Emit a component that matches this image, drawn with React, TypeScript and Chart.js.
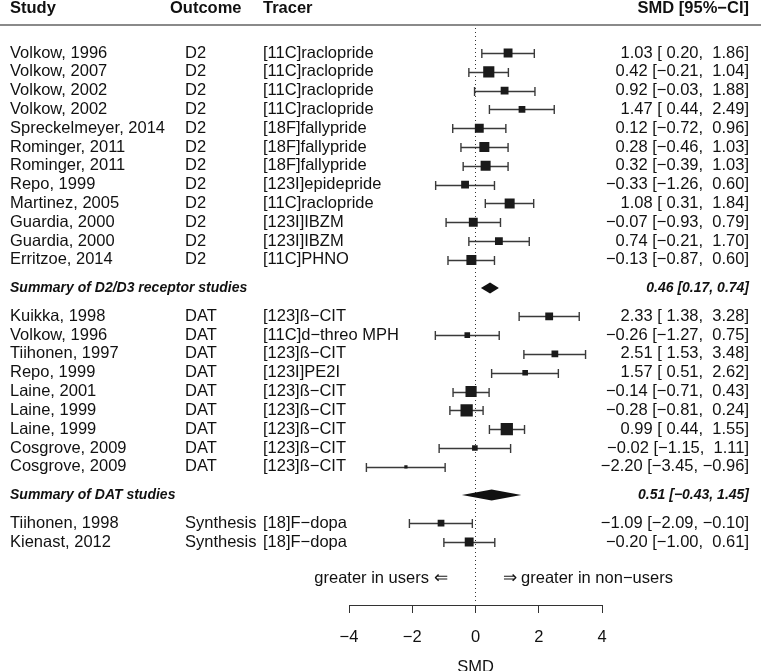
import React, { useEffect, useRef } from "react";
import { Chart, registerables } from "chart.js";

Chart.register(...registerables);

// ---------- data ----------
const studies = [
  "Volkow, 1996", "Volkow, 2007", "Volkow, 2002", "Volkow, 2002", "Spreckelmeyer, 2014",
  "Rominger, 2011", "Rominger, 2011", "Repo, 1999", "Martinez, 2005", "Guardia, 2000",
  "Guardia, 2000", "Erritzoe, 2014",
  "Kuikka, 1998", "Volkow, 1996", "Tiihonen, 1997", "Repo, 1999", "Laine, 2001",
  "Laine, 1999", "Laine, 1999", "Cosgrove, 2009", "Cosgrove, 2009",
  "Tiihonen, 1998", "Kienast, 2012",
];
const outcomes = [
  "D2", "D2", "D2", "D2", "D2", "D2", "D2", "D2", "D2", "D2", "D2", "D2",
  "DAT", "DAT", "DAT", "DAT", "DAT", "DAT", "DAT", "DAT", "DAT",
  "Synthesis", "Synthesis",
];
const tracers = [
  "[11C]raclopride", "[11C]raclopride", "[11C]raclopride", "[11C]raclopride", "[18F]fallypride",
  "[18F]fallypride", "[18F]fallypride", "[123I]epidepride", "[11C]raclopride", "[123I]IBZM",
  "[123I]IBZM", "[11C]PHNO",
  "[123]ß\u2212CIT", "[11C]d\u2212threo MPH", "[123]ß\u2212CIT", "[123I]PE2I", "[123]ß\u2212CIT",
  "[123]ß\u2212CIT", "[123]ß\u2212CIT", "[123]ß\u2212CIT", "[123]ß\u2212CIT",
  "[18]F\u2212dopa", "[18]F\u2212dopa",
];
const studyGroup = [0, 0, 0, 0, 0, 0, 0, 0, 0, 0, 0, 0, 1, 1, 1, 1, 1, 1, 1, 1, 1, 2, 2];
const smd = [
  1.03, 0.42, 0.92, 1.47, 0.12, 0.28, 0.32, -0.33, 1.08, -0.07, 0.74, -0.13,
  2.33, -0.26, 2.51, 1.57, -0.14, -0.28, 0.99, -0.02, -2.2,
  -1.09, -0.2,
];
const lower = [
  0.2, -0.21, -0.03, 0.44, -0.72, -0.46, -0.39, -1.26, 0.31, -0.93, -0.21, -0.87,
  1.38, -1.27, 1.53, 0.51, -0.71, -0.81, 0.44, -1.15, -3.45,
  -2.09, -1.0,
];
const upper = [
  1.86, 1.04, 1.88, 2.49, 0.96, 1.03, 1.03, 0.6, 1.84, 0.79, 1.7, 0.6,
  3.28, 0.75, 3.48, 2.62, 0.43, 0.24, 1.55, 1.11, -0.96,
  -0.1, 0.61,
];
const weights = [
  4.5, 7.1, 3.5, 2.6, 4.5, 5.7, 5.7, 3.5, 5.7, 4.5, 3.5, 5.7,
  3.5, 1.8, 2.6, 1.8, 7.1, 8.6, 8.6, 1.8, 0.6,
  2.6, 4.5,
];
const summaryLabels = ["Summary of D2/D3 receptor studies", "Summary of DAT studies"];
const summarySmd = [0.46, 0.51];
const summaryLower = [0.17, -0.43];
const summaryUpper = [0.74, 1.45];
const groupCount = 3;
const xTicks = [-4, -2, 0, 2, 4];
const headerStudy = "Study";
const headerOutcome = "Outcome";
const headerTracer = "Tracer";
const headerEffect = "SMD [95%\u2212CI]";
const leftLabel = "greater in users \u21d0";
const rightLabel = "\u21d2 greater in non\u2212users";
const axisTitle = "SMD";

// ---------- layout helpers ----------
const studyRows: number[] = [];
const summaryRows: number[] = [];
(() => {
  let r = 0;
  for (let g = 0; g < groupCount; g++) {
    studyGroup.forEach((gg, i) => {
      if (gg === g) {
        studyRows[i] = r;
        r += 1;
      }
    });
    if (g < summarySmd.length) {
      summaryRows[g] = r + 0.5;
      r += 2;
    }
  }
})();

const fmt = (v: number) => (v < 0 ? "\u2212" : "") + Math.abs(v).toFixed(2);
const pad = (v: number) => (v < 0 ? "" : " ") + fmt(v);
const studyText = (i: number) => `${fmt(smd[i])} [${pad(lower[i])}, ${pad(upper[i])}]`;
const summaryText = (g: number) =>
  `${fmt(summarySmd[g])} [${fmt(summaryLower[g])}, ${fmt(summaryUpper[g])}]`;

const FONT = '"Liberation Sans", Arial, Helvetica, sans-serif';
const FS = 16.5;
const W = 761;
const H = 680;
const ROW = 19.08;
const ROW0 = 45;
const AREA_BOTTOM = 605;
const SQ = 17.5;

const forestPlugin = {
  id: "forest",
  beforeDatasetsDraw(chart: any) {
    const { ctx, scales } = chart;
    const x = scales.x;
    const y = scales.y;
    ctx.save();
    // header rule
    ctx.strokeStyle = "#8a8a8a";
    ctx.lineWidth = 2;
    ctx.beginPath();
    ctx.moveTo(0, 25);
    ctx.lineTo(W, 25);
    ctx.stroke();
    // reference line
    const x0 = x.getPixelForValue(0);
    ctx.strokeStyle = "#333";
    ctx.lineWidth = 1;
    ctx.setLineDash([1, 3]);
    ctx.beginPath();
    ctx.moveTo(x0, 28);
    ctx.lineTo(x0, AREA_BOTTOM - 4);
    ctx.stroke();
    ctx.setLineDash([]);
    // CIs
    ctx.strokeStyle = "#3a3a3a";
    ctx.lineWidth = 1.4;
    smd.forEach((_, i) => {
      const yy = Math.round(y.getPixelForValue(studyRows[i])) + 0.5;
      const xl = x.getPixelForValue(lower[i]);
      const xh = x.getPixelForValue(upper[i]);
      ctx.beginPath();
      ctx.moveTo(xl, yy);
      ctx.lineTo(xh, yy);
      ctx.moveTo(xl, yy - 4.5);
      ctx.lineTo(xl, yy + 4.5);
      ctx.moveTo(xh, yy - 4.5);
      ctx.lineTo(xh, yy + 4.5);
      ctx.stroke();
    });
    // diamonds
    ctx.fillStyle = "#111";
    summarySmd.forEach((s, g) => {
      const yy = y.getPixelForValue(summaryRows[g]);
      const xl = x.getPixelForValue(summaryLower[g]);
      const xh = x.getPixelForValue(summaryUpper[g]);
      const xm = x.getPixelForValue(s);
      ctx.beginPath();
      ctx.moveTo(xl, yy);
      ctx.lineTo(xm, yy - 5.5);
      ctx.lineTo(xh, yy);
      ctx.lineTo(xm, yy + 5.5);
      ctx.closePath();
      ctx.fill();
    });
    ctx.restore();
  },
  afterDraw(chart: any) {
    const { ctx, scales } = chart;
    const y = scales.y;
    const x = scales.x;
    ctx.save();
    ctx.fillStyle = "#111";
    ctx.textBaseline = "middle";
    // headers
    const hy = 8;
    ctx.font = `bold ${FS}px ${FONT}`;
    ctx.textAlign = "left";
    ctx.fillText(headerStudy, 10, hy);
    ctx.fillText(headerOutcome, 170, hy);
    ctx.fillText(headerTracer, 263, hy);
    ctx.textAlign = "right";
    ctx.fillText(headerEffect, 749, hy);
    // studies
    ctx.font = `${FS}px ${FONT}`;
    studies.forEach((s, i) => {
      const yy = y.getPixelForValue(studyRows[i]);
      ctx.textAlign = "left";
      ctx.fillText(s, 10, yy);
      ctx.fillText(outcomes[i], 185, yy);
      ctx.fillText(tracers[i], 263, yy);
      ctx.textAlign = "right";
      ctx.fillText(studyText(i), 749, yy);
    });
    // summaries
    ctx.font = `italic bold 14px ${FONT}`;
    summaryLabels.forEach((s, g) => {
      const yy = y.getPixelForValue(summaryRows[g]);
      ctx.textAlign = "left";
      ctx.fillText(s, 10, yy);
      ctx.textAlign = "right";
      ctx.fillText(summaryText(g), 749, yy);
    });
    // direction labels
    ctx.font = `${FS}px ${FONT}`;
    const x0 = x.getPixelForValue(0);
    const ly = 578;
    ctx.textAlign = "right";
    ctx.fillText(leftLabel, x0 - 28, ly);
    ctx.textAlign = "left";
    ctx.fillText(rightLabel, x0 + 27, ly);
    ctx.restore();
  },
};

export default function App() {
  const ref = useRef<HTMLCanvasElement | null>(null);
  useEffect(() => {
    if (!ref.current) return;
    const yMin = -ROW0 / ROW;
    const yMax = (AREA_BOTTOM - ROW0) / ROW;
    const radii = weights.map((w) => Math.sqrt(w * SQ) / Math.SQRT2);
    const chart = new Chart(ref.current, {
      type: "scatter",
      data: {
        datasets: [
          {
            data: smd.map((v, i) => ({ x: v, y: studyRows[i] })),
            pointStyle: "rect",
            pointRadius: radii,
            pointHoverRadius: radii,
            backgroundColor: "#1a1a1a",
            borderWidth: 0,
          },
        ],
      },
      options: {
        animation: false,
        responsive: false,
        devicePixelRatio: 1,
        events: [],
        layout: { padding: { left: 349, right: W - 602, top: 0, bottom: 0 } },
        plugins: { legend: { display: false }, tooltip: { enabled: false } },
        scales: {
          x: {
            type: "linear",
            min: -4,
            max: 4,
            afterFit: (scale: any) => {
              scale.height = H - AREA_BOTTOM;
            },
            afterBuildTicks: (scale: any) => {
              scale.ticks = xTicks.map((v) => ({ value: v }));
            },
            ticks: {
              color: "#111",
              padding: 15,
              font: { family: FONT, size: FS },
              callback: (v: any) => fmt(Number(v)).replace(".00", ""),
            },
            grid: { drawOnChartArea: false, tickLength: 8, color: "#333", lineWidth: 1 },
            border: { display: true, color: "#333", width: 1 },
            title: {
              display: true,
              text: axisTitle,
              color: "#111",
              font: { family: FONT, size: FS },
              padding: { top: 0, bottom: 3 },
            },
          },
          y: {
            type: "linear",
            display: false,
            reverse: true,
            min: yMin,
            max: yMax,
          },
        },
      },
      plugins: [forestPlugin],
    } as any);
    return () => chart.destroy();
  }, []);
  return (
    <div
      style={{
        position: "fixed",
        left: 0,
        top: 0,
        width: W,
        height: 671,
        overflow: "hidden",
        background: "#fff",
      }}
    >
      <canvas ref={ref} width={W} height={H} style={{ display: "block" }} />
    </div>
  );
}
